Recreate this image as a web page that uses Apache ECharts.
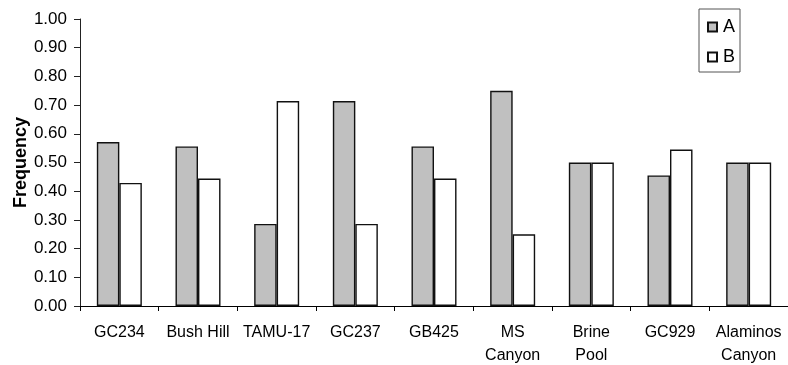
<!DOCTYPE html>
<html>
<head>
<meta charset="utf-8">
<script src="https://cdn.jsdelivr.net/npm/echarts@6/dist/echarts.min.js"></script>
<style>
  html, body { margin: 0; padding: 0; background: #fff; }
  #chart { width: 788px; height: 365px; }
</style>
</head>
<body>
<div id="chart"></div>
<script>
// Sites along the x axis
const sites = ['GC234', 'Bush Hill', 'TAMU-17', 'GC237', 'GB425', 'MS\nCanyon', 'Brine\nPool', 'GC929', 'Alaminos\nCanyon'];
// Frequency of each allele per site
const freqA = [0.571, 0.556, 0.286, 0.714, 0.556, 0.75, 0.5, 0.455, 0.5];
const freqB = [0.429, 0.444, 0.714, 0.286, 0.444, 0.25, 0.5, 0.545, 0.5];
const seriesNames = ['A', 'B'];
const yTicks = { min: 0, max: 1, step: 0.1 };

const FONT = '"Liberation Sans", Arial, sans-serif';
const chart = echarts.init(document.getElementById('chart'), null, { renderer: 'canvas' });

chart.setOption({
  animation: false,
  backgroundColor: '#ffffff',
  textStyle: { fontFamily: FONT, color: '#000' },
  grid: { left: 80, right: 0, top: 19, bottom: 59, containLabel: false, outerBoundsMode: 'none' },
  legend: {
    orient: 'vertical',
    left: 699,
    top: 9,
    padding: [9, 5, 6, 8],
    itemGap: 12,
    itemWidth: 9,
    itemHeight: 9,
    borderColor: '#555',
    borderWidth: 1,
    icon: 'rect',
    textStyle: { fontFamily: FONT, fontSize: 18, color: '#000', padding: [0, 0, 0, 1] },
    data: seriesNames
  },
  xAxis: {
    type: 'category',
    data: sites,
    boundaryGap: true,
    axisLine: { lineStyle: { color: '#000', width: 1 } },
    axisTick: { show: true, length: 5, lineStyle: { color: '#000' } },
    axisLabel: {
      interval: 0,
      margin: 15,
      fontFamily: FONT,
      fontSize: 16,
      lineHeight: 23,
      color: '#000'
    },
    splitLine: { show: false }
  },
  yAxis: {
    type: 'value',
    min: yTicks.min,
    max: yTicks.max,
    interval: yTicks.step,
    name: 'Frequency',
    nameLocation: 'middle',
    nameGap: 50,
    nameMoveOverlap: false,
    nameRotate: 90,
    nameTextStyle: { fontFamily: FONT, fontSize: 18, fontWeight: 'bold', color: '#000' },
    axisLine: { show: true, lineStyle: { color: '#222', width: 1 } },
    axisTick: { show: true, length: 6, lineStyle: { color: '#222' } },
    axisLabel: {
      margin: 13,
      fontFamily: FONT,
      fontSize: 17,
      color: '#000',
      formatter: v => v.toFixed(2)
    },
    splitLine: { show: false }
  },
  series: [
    {
      name: seriesNames[0],
      type: 'bar',
      data: freqA,
      barWidth: 22.5,
      barGap: '0%',
      itemStyle: { color: '#c0c0c0', borderColor: '#111', borderWidth: 1.4 }
    },
    {
      name: seriesNames[1],
      type: 'bar',
      data: freqB,
      barWidth: 22.5,
      barGap: '0%',
      itemStyle: { color: '#ffffff', borderColor: '#111', borderWidth: 1.4 }
    }
  ]
});
</script>
</body>
</html>
